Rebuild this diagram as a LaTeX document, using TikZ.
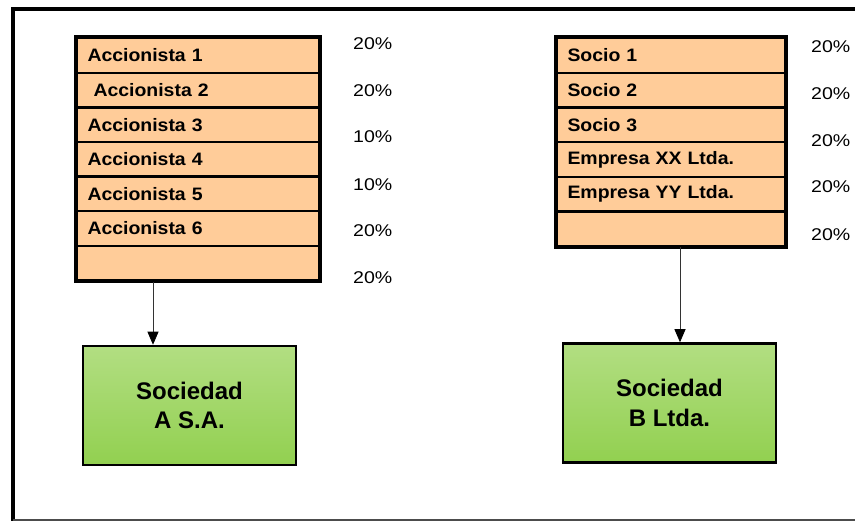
\documentclass[tikz,border=0pt]{standalone}
\usepackage{fontspec}
\setmainfont{Liberation Sans}
\newfontfamily\rowfont{Liberation Sans}[FakeStretch=1.08]
\newfontfamily\pctfont{Liberation Sans}[FakeStretch=1.15]
\usetikzlibrary{arrows.meta, positioning, calc}
\definecolor{peach}{RGB}{255,204,153}
\definecolor{leafA}{RGB}{178,222,130}
\definecolor{leafB}{RGB}{146,208,80}
\tikzset{
  rowbox/.style={draw, line width=2.4pt, fill=peach, anchor=north west,
    minimum height=34.6pt, inner xsep=11pt, inner ysep=0pt, align=left,
    font=\rowfont\bfseries\fontsize{18}{21}\selectfont},
  pct/.style={anchor=base west, inner sep=0pt,
    font=\pctfont\fontsize{17}{20}\selectfont},
  firm/.style={draw, line width=2.5pt, top color=leafA, bottom color=leafB,
    minimum width=213pt, minimum height=119pt, align=center,
    font=\bfseries\fontsize{24}{29.3}\selectfont},
  arrowline/.style={black!80, line width=0.8pt,
    -{Triangle[length=13pt,width=11pt,black]}}
}
\begin{document}
\begin{tikzpicture}[x=1pt,y=-1pt]
  \useasboundingbox (0,0) rectangle (855,521);
  % marco
  \draw[line width=4pt] (13,521) -- (13,9.5) -- (855,9.5);
  \draw[black!70, line width=2pt] (13,519.5) -- (855,519.5);

  % accionistas de A
  \foreach \txt [count=\i] in {Accionista 1,{\hspace*{6pt}Accionista 2},
      Accionista 3,Accionista 4,Accionista 5,Accionista 6,{}}
    \node[rowbox, text width=220.2pt] (acc\i) at (75.3,{37+(\i-1)*34.6}) {\txt};
  \draw[line width=3.2pt] (acc1.north west) rectangle (acc7.south east);

  \foreach \p/\yb [count=\i] in {20/50,20/97,10/143,10/190.5,20/236.5,20/284}
    \node[pct] (pa\i) at (353,\yb) {\p\%};

  % socios de B
  \foreach \txt [count=\i] in {Socio 1,Socio 2,Socio 3,Empresa XX Ltda.,
      Empresa YY Ltda.,{}}
    \node[rowbox, text width=206.7pt] (soc\i) at (555.3,{37+(\i-1)*34.7}) {\txt};
  \draw[line width=3.2pt] (soc1.north west) rectangle (soc6.south east);

  \foreach \yb [count=\i] in {53,100,146.5,193,240.5}
    \node[pct] (pb\i) at (811,\yb) {20\%};

  % sociedades
  \node[firm] (socA) at (189.5,405.5) {Sociedad\\A S.A.};
  \node[firm] (socB) at (669.5,403) {Sociedad\\B Ltda.};

  \coordinate (tapA) at (153,0);
  \coordinate (tapB) at (680,0);
  \draw[arrowline] (acc7.south -| tapA) -- (socA.north -| tapA);
  \draw[arrowline] (soc6.south -| tapB) -- (socB.north -| tapB);
\end{tikzpicture}
\end{document}
